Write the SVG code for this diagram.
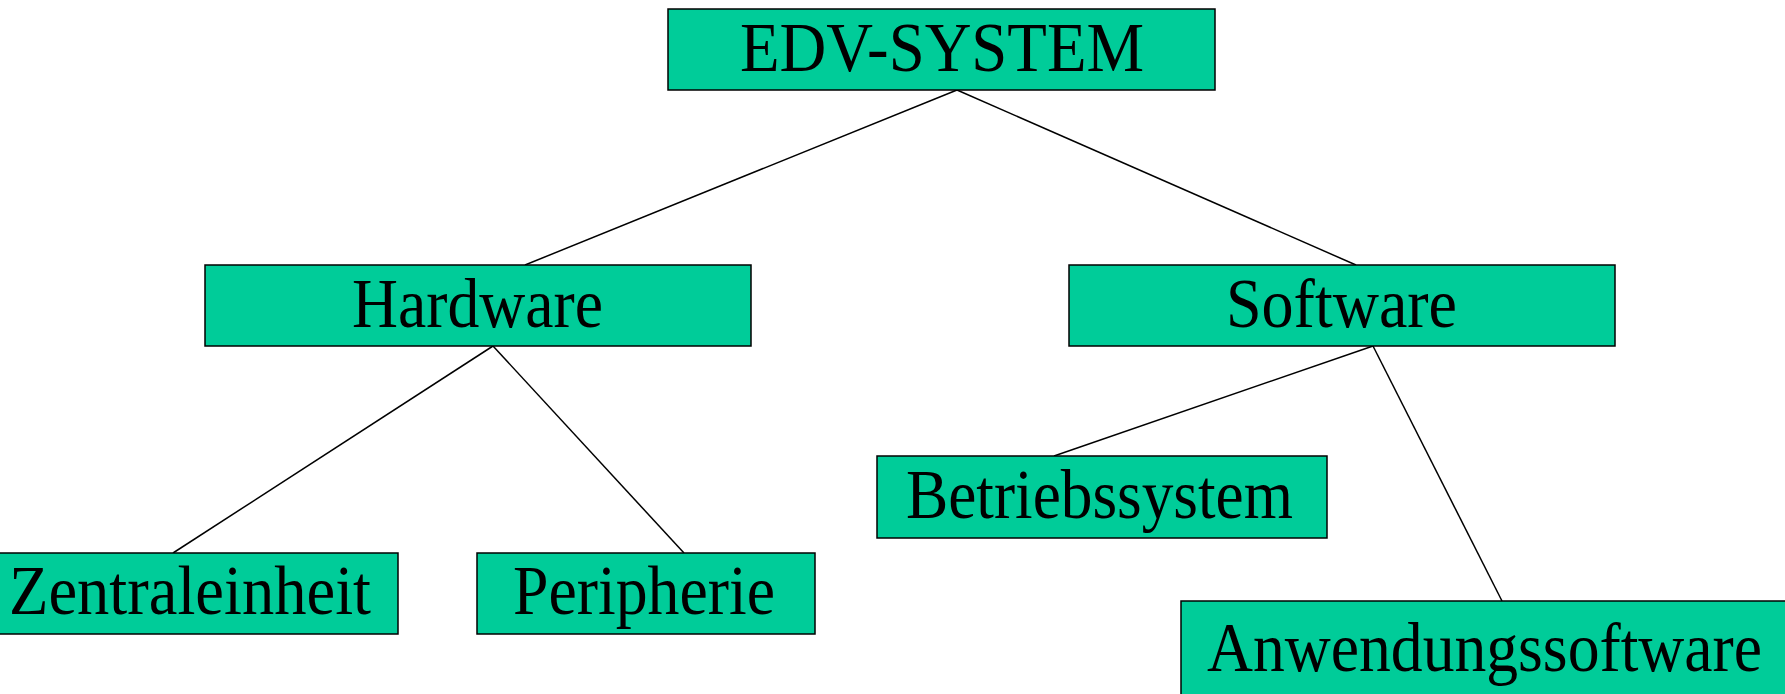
<svg xmlns="http://www.w3.org/2000/svg" width="1785" height="694" viewBox="0 0 1785 694">
<style>
.box{fill:#00CC99;stroke:#000;stroke-width:1.5}
.lbl{font-family:"Liberation Serif","Times New Roman",serif;font-size:69px;fill:#000}
.con{stroke:#000;stroke-width:1.5;fill:none}
</style>
<rect width="1785" height="694" fill="#fff"/>
<g id="connectors">
<line class="con" x1="957" y1="90" x2="525" y2="265"/>
<line class="con" x1="957" y1="90" x2="1356" y2="265"/>
<line class="con" x1="493" y1="346" x2="173" y2="553"/>
<line class="con" x1="493" y1="346" x2="684" y2="553"/>
<line class="con" x1="1373" y1="346" x2="1054" y2="456"/>
<line class="con" x1="1373" y1="346" x2="1502" y2="601"/>
</g>
<g id="edv"><rect class="box" x="668" y="9" width="547" height="81"/><text class="lbl" x="740" y="71" textLength="404" lengthAdjust="spacingAndGlyphs">EDV-SYSTEM</text></g>
<g id="hardware"><rect class="box" x="205" y="265" width="546" height="81"/><text class="lbl" x="352" y="327" textLength="251" lengthAdjust="spacingAndGlyphs">Hardware</text></g>
<g id="software"><rect class="box" x="1069" y="265" width="546" height="81"/><text class="lbl" x="1226" y="327" textLength="231" lengthAdjust="spacingAndGlyphs">Software</text></g>
<g id="zentraleinheit"><rect class="box" x="-20" y="553" width="418" height="81"/><text class="lbl" x="9" y="614" textLength="362" lengthAdjust="spacingAndGlyphs">Zentraleinheit</text></g>
<g id="peripherie"><rect class="box" x="477" y="553" width="338" height="81"/><text class="lbl" x="513" y="614" textLength="262" lengthAdjust="spacingAndGlyphs">Peripherie</text></g>
<g id="betriebssystem"><rect class="box" x="877" y="456" width="450" height="82"/><text class="lbl" x="906" y="518" textLength="387" lengthAdjust="spacingAndGlyphs">Betriebssystem</text></g>
<g id="anwendungssoftware"><rect class="box" x="1181" y="601" width="620" height="110"/><text class="lbl" x="1207" y="671" textLength="555" lengthAdjust="spacingAndGlyphs">Anwendungssoftware</text></g>
</svg>
